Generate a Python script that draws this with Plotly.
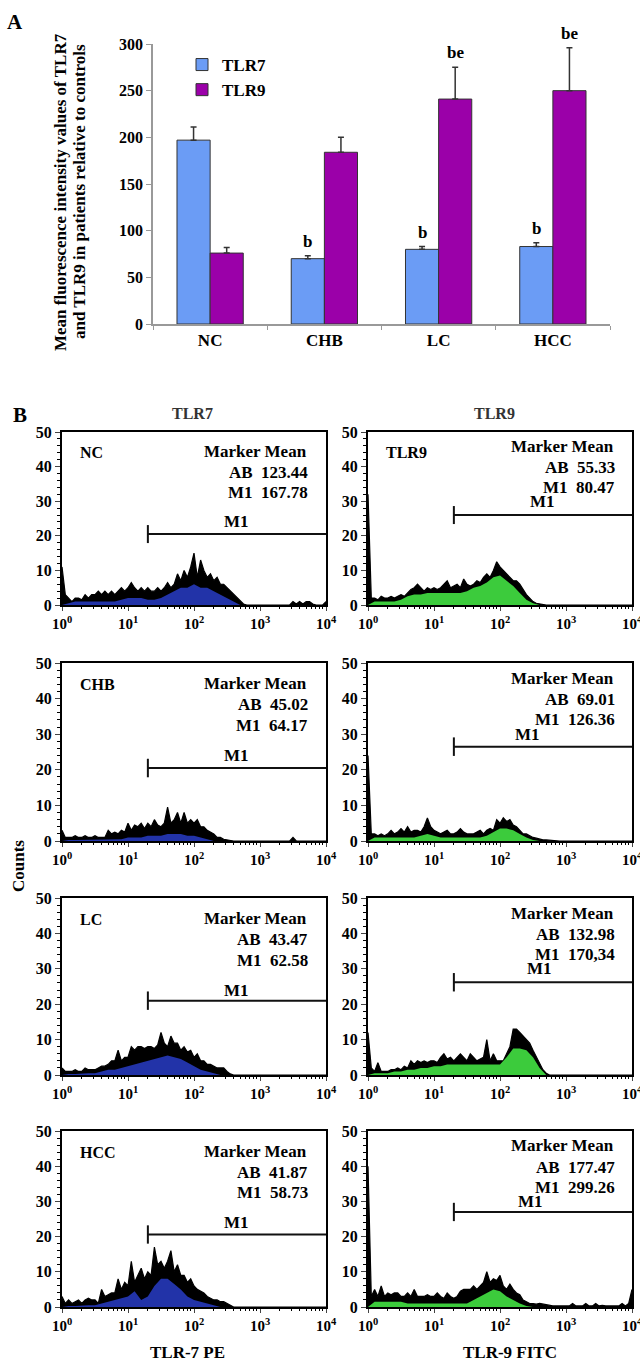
import numpy as np
import plotly.graph_objects as go

W, H = 640, 1365
FONT = "Liberation Serif"

# ---------------- Panel A data ----------------
groups = ["NC", "CHB", "LC", "HCC"]
tlr7_mean = [197, 70, 80, 83]
tlr7_err = [14, 3, 3, 4]
tlr9_mean = [76, 184, 241, 250]
tlr9_err = [6, 16, 34, 46]
tlr7_sig = ["", "b", "b", "b"]
tlr9_sig = ["", "", "be", "be"]
y_ticks_a = [0, 50, 100, 150, 200, 250, 300]

# ---------------- Panel B data ----------------
# channel positions in decades (fine grid for the black envelope, coarse for the coloured core)
log_fine = np.arange(81) * 0.05
log_coarse = np.arange(41) * 0.1

nc_tlr7 = [11, 3, 2, 1, 2, 2, 1.5, 3, 2, 3,
           3, 4, 3, 4, 3, 4, 3, 4, 5, 4,
           5, 6.5, 5, 4, 5, 4, 5, 4, 4, 5,
           4, 5, 6.5, 5, 6, 9, 7, 10, 8, 11,
           15, 8, 13, 10, 8, 9, 7, 8, 6, 6,
           5, 4, 3, 2, 1, 0.3, 0, 0, 0, 0,
           0, 0, 0, 0, 0, 0, 0, 0, 0, 0,
           1, 0.3, 1, 0.3, 1, 1, 0.3, 0, 0, 0,
           1]
nc_tlr7_core = [0, 0.5, 1, 1, 1, 1, 1, 1, 1, 1.5,
                2, 2, 2, 1.5, 1.5, 2, 3, 4, 5, 5,
                6, 5, 5, 4, 3, 2, 1, 0, 0, 0,
                0, 0, 0, 0, 0, 0, 0, 0, 0, 0,
                0]
nc_tlr9 = [32, 2, 2, 1.5, 2.5, 2, 2, 2.5, 2, 2.5,
           3, 2.5, 3.5, 4.5, 5, 6, 5, 4, 5, 4.5,
           5, 4.5, 5, 6, 7, 5, 5.5, 6, 5, 7.5,
           6, 5.5, 6, 7, 6.5, 8, 9, 8, 10, 12.5,
           11, 10, 9, 8, 7, 7, 6, 4.5, 3, 2,
           1, 0.5, 0.3, 0.2, 0, 0, 0, 0, 0, 0,
           0, 0, 0, 0, 0, 0, 0, 0, 0, 0,
           0, 0, 0, 0, 0, 0, 0, 0, 0, 0,
           0]
nc_tlr9_core = [0, 1, 1, 1, 1, 1.5, 2.5, 3, 3, 3.5,
                3.5, 3.5, 3.5, 3.5, 3.5, 4, 5, 5.5, 6.5, 8,
                8.5, 7, 5.5, 3.5, 1.5, 0.5, 0, 0, 0, 0,
                0, 0, 0, 0, 0, 0, 0, 0, 0, 0,
                0]
chb_tlr7 = [3, 1, 1, 1, 1.5, 1, 1, 1.5, 1, 1,
            1.5, 1, 1, 1, 3, 2, 2.5, 2, 3, 2.5,
            5, 3, 4.5, 4, 5, 3.5, 5, 4, 6, 4.5,
            4, 5, 9.5, 5, 6, 8, 5, 8, 5, 6,
            5, 6, 4, 4, 3, 2.5, 2, 1, 1, 0.5,
            0.3, 0, 0, 0, 0, 0, 0, 0, 0, 0,
            0, 0, 0, 0, 0, 0, 0, 0, 0, 0,
            1, 0, 0, 0, 0, 0, 0, 0, 0, 0,
            0]
chb_tlr7_core = [0, 0.3, 0.3, 0.3, 0.3, 0.3, 0.5, 0.5, 0.5, 0.5,
                 1, 1, 1, 1.5, 1.5, 1.5, 2, 2, 2, 1.5,
                 1.5, 1, 0.5, 0, 0, 0, 0, 0, 0, 0,
                 0, 0, 0, 0, 0, 0, 0, 0, 0, 0,
                 0]
chb_tlr9 = [24, 2, 2, 1.5, 2, 1.5, 2, 3, 2, 2.5,
            3.5, 2.5, 4, 2.5, 3, 3, 2.5, 4, 6.5, 4,
            3, 2.5, 2, 2.5, 3, 2, 2, 2.5, 3.5, 2.5,
            2, 2, 2, 2.5, 3, 2, 3, 3.5, 3, 6,
            5, 6.5, 5.5, 6, 4.5, 4, 3, 2, 2, 1.5,
            1, 0.8, 0.5, 0.3, 0.3, 0.2, 0, 0, 0, 0,
            0, 0, 0, 0, 0, 0, 0, 0, 0, 0,
            0, 0, 0, 0, 0, 0, 0, 0, 0, 0,
            0]
chb_tlr9_core = [0, 1, 1, 1, 1, 1, 1, 1, 1.5, 2,
                 1.5, 1, 1, 1, 1, 1, 1, 1, 1.5, 2.5,
                 3.5, 3.5, 3, 2, 1, 0.3, 0, 0, 0, 0,
                 0, 0, 0, 0, 0, 0, 0, 0, 0, 0,
                 0]
lc_tlr7 = [2, 1, 1, 1, 1.5, 1, 1, 2, 1.5, 1.5,
           1.5, 2, 2.5, 2.5, 3, 4, 4, 7, 4, 5,
           5, 8, 7, 8, 8, 7.5, 8, 8, 7.5, 8.5,
           12, 9, 8, 11, 9, 9, 7, 8, 6.5, 7,
           5, 6, 4, 4, 3, 3, 2.5, 2, 2, 2,
           1, 0.3, 0, 0, 0, 0, 0, 0, 0, 0,
           0, 0, 0, 0, 0, 0, 0, 0, 0, 0,
           0, 0, 0, 0, 0, 0, 0, 0, 0, 0,
           0]
lc_tlr7_core = [0, 0.3, 0.3, 0.5, 0.5, 0.5, 1, 1.5, 1.5, 2,
                2.5, 3, 3.5, 4, 4.5, 5, 5.5, 5, 4.5, 3.5,
                2.5, 1.5, 1, 0.5, 0, 0, 0, 0, 0, 0,
                0, 0, 0, 0, 0, 0, 0, 0, 0, 0,
                0]
lc_tlr9 = [12, 2, 1, 3.5, 1, 1, 1, 1.5, 1.5, 2,
           1.5, 2.5, 2, 4, 3, 4, 3.5, 4, 3.5, 4,
           4, 3.5, 5, 6, 4.5, 5, 4, 5, 6, 5,
           4, 6, 5, 4, 4.5, 5, 10, 4, 6, 4,
           4, 4, 6, 8, 13, 13, 12, 11, 10, 9,
           7, 5, 3, 1.5, 0.5, 0, 0, 0, 0, 0,
           0, 0, 0, 0, 0, 0, 0, 0, 0, 0,
           0, 0, 0, 0, 0, 0, 0, 0, 0, 0,
           0]
lc_tlr9_core = [0, 0.5, 0.5, 0.5, 1, 1, 1.5, 1.5, 2, 2,
                2.5, 2.5, 3, 3, 3, 3, 3, 3, 3, 3,
                3, 5, 7.5, 7.5, 7, 5, 2, 0, 0, 0,
                0, 0, 0, 0, 0, 0, 0, 0, 0, 0,
                0]
hcc_tlr7 = [3, 1, 2, 1, 1.5, 2, 1, 2, 2.5, 2,
            2, 1, 5, 3, 3.5, 4, 4, 8, 5, 7,
            6, 13, 7, 9, 11, 8, 10, 9, 17, 12,
            13, 11, 13, 16, 10, 12, 9, 9, 7, 8,
            6, 5, 4.5, 4, 3, 2.5, 2, 2, 1.5, 1.5,
            1, 0.5, 0, 0, 0, 0, 0, 0, 0, 0,
            0, 0, 0, 0, 0, 0, 0, 0, 0, 0,
            0, 0, 0, 0, 0, 0, 0, 0, 0, 0,
            0]
hcc_tlr7_core = [0, 0.3, 0.3, 0.5, 0.5, 0.5, 1, 1.5, 2, 2.5,
                 3, 4.5, 2, 3, 6, 8, 8, 6.5, 5, 3,
                 2, 1.5, 1, 0.5, 0, 0, 0, 0, 0, 0,
                 0, 0, 0, 0, 0, 0, 0, 0, 0, 0,
                 0]
hcc_tlr9 = [40, 3, 5, 3, 6, 3, 4, 3.5, 4, 4,
            3, 3, 4, 3, 5, 3, 3, 3, 3.5, 3,
            3, 4, 3, 2.5, 4, 3, 2.5, 3, 4.5, 5,
            5, 5, 6, 5, 6, 7, 10, 7, 8, 7.5,
            9, 6, 5, 6.5, 5, 4, 3.5, 2, 1.5, 1,
            1, 0.8, 1, 0.8, 0.5, 0.3, 0.3, 0.3, 0.3, 0.3,
            0.3, 0.3, 1, 0.3, 0.3, 0.3, 1, 0.3, 0.3, 1,
            0.3, 0.5, 0.3, 0.3, 0.3, 0.3, 0.3, 1, 0.3, 1,
            5]
hcc_tlr9_core = [0, 1.5, 1.5, 1.5, 1.5, 1.5, 1, 1, 1, 1,
                 1, 1, 1, 1, 1, 1, 2, 3, 4, 5,
                 4.5, 3, 2, 1, 0.3, 0, 0, 0, 0, 0,
                 0, 0, 0, 0, 0, 0, 0, 0, 0, 0,
                 0]

samples = ["NC", "CHB", "LC", "HCC"]
tlr7_hists = [nc_tlr7, chb_tlr7, lc_tlr7, hcc_tlr7]
tlr7_cores = [nc_tlr7_core, chb_tlr7_core, lc_tlr7_core, hcc_tlr7_core]
tlr9_hists = [nc_tlr9, chb_tlr9, lc_tlr9, hcc_tlr9]
tlr9_cores = [nc_tlr9_core, chb_tlr9_core, lc_tlr9_core, hcc_tlr9_core]
tlr7_ab = ["123.44", "45.02", "43.47", "41.87"]
tlr7_m1 = ["167.78", "64.17", "62.58", "58.73"]
tlr9_ab = ["55.33", "69.01", "132.98", "177.47"]
tlr9_m1 = ["80.47", "126.36", "170,34", "299.26"]
tlr9_tag = ["TLR9", "", "", ""]
marker_start = 20
tlr7_marker_level = [20.5, 20.5, 21, 20.6]
tlr9_marker_level = [26, 26.5, 26.2, 27]
tlr9_m1_label_pos = [0.66, 0.605, 0.65, 0.615]
hist_ticks = [1, 10, 100, 1000, 10000]
hist_ticktext = ["10<sup>0</sup>", "10<sup>1</sup>", "10<sup>2</sup>", "10<sup>3</sup>", "10<sup>4</sup>"]
minor_vals = [m * d for d in [1, 10, 100, 1000] for m in range(2, 10)]

C7, C9 = "#6b9cf5", "#9b00a9"
BLUE_CORE, GREEN_CORE = "#2233a8", "#3ccb3c"


def px(x):
    return x / W


def py(y):
    return 1 - y / H


def font(size, color="black", bold=True):
    return dict(family=FONT, size=size, color=color, weight="bold" if bold else "normal")


def note(x, y, text, size=17, xanchor="center", yanchor="middle", **kw):
    d = dict(x=x, y=y, text=text, showarrow=False, xanchor=xanchor, yanchor=yanchor,
             font=font(size, kw.pop("color", "black")))
    d.update(kw)
    return d


fig = go.Figure()

# ---------------- Panel A ----------------
fig.add_trace(go.Bar(
    x=groups, y=tlr7_mean, name="TLR7", marker=dict(color=C7, line=dict(color="#333", width=1)),
    error_y=dict(type="data", array=tlr7_err, arrayminus=[0] * 4, symmetric=False,
                 color="#333", thickness=1.5, width=3),
    xaxis="x", yaxis="y"))
fig.add_trace(go.Bar(
    x=groups, y=tlr9_mean, name="TLR9", marker=dict(color=C9, line=dict(color="#333", width=1)),
    error_y=dict(type="data", array=tlr9_err, arrayminus=[0] * 4, symmetric=False,
                 color="#333", thickness=1.5, width=3),
    xaxis="x", yaxis="y"))

annotations = []
for g, m, e, s in zip(groups, tlr7_mean, tlr7_err, tlr7_sig):
    if s:
        annotations.append(note(g, m + e, s, xref="x", yref="y", xshift=-16.5,
                                yanchor="bottom", yshift=3))
for g, m, e, s in zip(groups, tlr9_mean, tlr9_err, tlr9_sig):
    if s:
        annotations.append(note(g, m + e, s, xref="x", yref="y", xshift=16.5,
                                yanchor="bottom", yshift=3))

annotations += [
    note(px(61), py(192), "Mean fluorescence intensity values of TLR7", xref="paper",
         yref="paper", textangle=-90),
    note(px(80), py(192), "and TLR9 in patients relative to controls", xref="paper",
         yref="paper", textangle=-90),
    note(px(15), py(22), "A", size=21, xref="paper", yref="paper"),
    note(px(20), py(415), "B", size=21, xref="paper", yref="paper"),
    note(px(192), py(413), "TLR7", size=16, color="#333", xref="paper", yref="paper"),
    note(px(494), py(413), "TLR9", size=16, color="#333", xref="paper", yref="paper"),
    note(px(18), py(866), "Counts", xref="paper", yref="paper", textangle=-90),
    note(px(187), py(1352), "TLR-7 PE", xref="paper", yref="paper"),
    note(px(510), py(1352), "TLR-9 FITC", xref="paper", yref="paper"),
]

layout = dict(
    width=W, height=H, margin=dict(l=0, r=0, t=0, b=0, autoexpand=False),
    paper_bgcolor="white", plot_bgcolor="white",
    barmode="group", bargap=0.42, bargroupgap=0,
    showlegend=True,
    legend=dict(x=px(182), y=py(47), xanchor="left", yanchor="top", bgcolor="rgba(0,0,0,0)",
                font=font(17), itemwidth=30, tracegroupgap=0),
    xaxis=dict(domain=[px(153), px(610)], showline=True, linecolor="#999", linewidth=1.5,
               ticks="outside", ticklen=4, tickcolor="#999", tickson="boundaries",
               tickfont=font(17), showgrid=False, anchor="y", automargin=False),
    yaxis=dict(domain=[py(324), py(44)], range=[0, 300], tickvals=y_ticks_a, showline=True,
               linecolor="#999", linewidth=1.5, ticks="outside", ticklen=5, tickcolor="#999",
               tickfont=font(16), showgrid=False, zeroline=False, anchor="x", automargin=False),
)

# ---------------- Panel B ----------------
row_px = [(432, 605), (663, 841), (898, 1075), (1131, 1307)]
col_px = [(62, 326), (368, 632)]

for r in range(4):
    for c in range(2):
        idx = 2 + r * 2 + c
        xa, ya = f"x{idx}", f"y{idx}"
        hist = tlr7_hists[r] if c == 0 else tlr9_hists[r]
        core = tlr7_cores[r] if c == 0 else tlr9_cores[r]
        core_col = BLUE_CORE if c == 0 else GREEN_CORE
        fig.add_trace(go.Scatter(x=10 ** log_fine, y=hist, mode="lines", fill="tozeroy",
                                 fillcolor="black", line=dict(color="black", width=1.2),
                                 xaxis=xa, yaxis=ya, showlegend=False, hoverinfo="skip"))
        fig.add_trace(go.Scatter(x=10 ** log_coarse, y=core, mode="lines", fill="tozeroy",
                                 fillcolor=core_col, line=dict(color=core_col, width=0),
                                 xaxis=xa, yaxis=ya, showlegend=False, hoverinfo="skip"))
        lvl = tlr7_marker_level[r] if c == 0 else tlr9_marker_level[r]
        fig.add_trace(go.Scatter(x=[marker_start, 10000, None, marker_start, marker_start],
                                 y=[lvl, lvl, None, lvl - 2.6, lvl + 2.6], mode="lines",
                                 line=dict(color="#111", width=2), xaxis=xa, yaxis=ya,
                                 showlegend=False, hoverinfo="skip"))
        top, bot = row_px[r]
        left, right = col_px[c]
        layout[f"xaxis{idx}"] = dict(
            domain=[px(left), px(right)], type="log", range=[0, 4], anchor=ya,
            tickvals=hist_ticks, ticktext=hist_ticktext, ticks="outside", ticklen=4,
            tickfont=font(15), showline=True, linecolor="black", linewidth=2, mirror=True,
            showgrid=False, zeroline=False, automargin=False, ticklabeloverflow="allow",
            minor=dict(tickvals=minor_vals, ticks="outside", ticklen=2, tickcolor="black"))
        layout[f"yaxis{idx}"] = dict(
            domain=[py(bot), py(top)], range=[0, 50], dtick=10, anchor=xa, ticks="outside",
            ticklen=5, tickfont=font(16), showline=True, linecolor="black", linewidth=2,
            mirror=True, showgrid=False, zeroline=False, automargin=False,
            minor=dict(dtick=2, ticks="outside", ticklen=3, tickcolor="black"))

        xd, yd = f"{xa} domain", f"{ya} domain"
        if c == 0:
            tag, ab, m1 = samples[r], tlr7_ab[r], tlr7_m1[r]
            ys = (0.885, 0.765, 0.648)
            xr = 0.94
            m1x, m1y = 0.66, 0.48
        else:
            tag, ab, m1 = tlr9_tag[r], tlr9_ab[r], tlr9_m1[r]
            ys = (0.915, 0.795, 0.68)
            xr = 0.945
            m1x, m1y = tlr9_m1_label_pos[r], 0.6
        if tag:
            annotations.append(note(0.06, 0.88, tag, size=16, xref=xd, yref=yd, xanchor="left"))
        annotations.append(note(xr - 0.005, ys[0], "Marker Mean", xref=xd, yref=yd,
                                xanchor="right"))
        annotations.append(note(xr, ys[1], "AB  " + ab, xref=xd, yref=yd, xanchor="right"))
        annotations.append(note(xr, ys[2], "M1  " + m1, xref=xd, yref=yd, xanchor="right"))
        annotations.append(note(m1x, m1y, "M1", xref=xd, yref=yd))

layout["annotations"] = annotations
fig.update_layout(**layout)
# remove the browser's default 8px body margin so the figure sits at the page origin
fig.write_html("out.html", config={"displayModeBar": False},
               post_script="document.body.style.margin='0';")
